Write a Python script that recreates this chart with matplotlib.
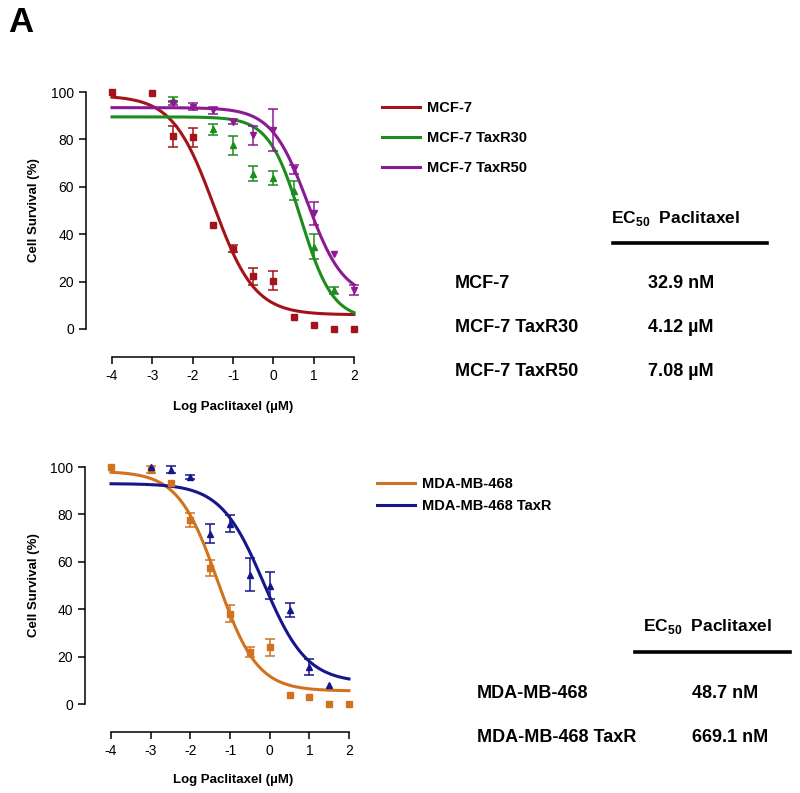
import numpy as np
import matplotlib
matplotlib.use("Agg")
import matplotlib.pyplot as plt
from matplotlib.lines import Line2D

plt.rcParams['font.family'] = ['Liberation Sans', 'DejaVu Sans']
plt.rcParams['mathtext.fontset'] = 'custom'
plt.rcParams['mathtext.rm'] = 'Liberation Sans:bold'
plt.rcParams['mathtext.bf'] = 'Liberation Sans:bold'

# log10 paclitaxel concentration (uM)
log_conc = [-4, -3, -2.5, -2, -1.5, -1, -0.5, 0, 0.5, 1, 1.5, 2]

# --- MCF-7 panel ---
mcf7_x = log_conc
mcf7_y = [100, 99.5, 81.3, 81, 43.8, 33.8, 22.2, 20.3, 5, 1.5, 0, 0]
mcf7_err = [0, 0, 4.5, 4, 0, 1.5, 3.5, 4, 0, 0, 0, 0]

r30_x = [-2.5, -1.5, -1, -0.5, 0, 0.5, 1, 1.5]
r30_y = [96.8, 84.2, 77.6, 65.6, 63.8, 58.3, 34.8, 16.3]
r30_err = [1, 2.5, 4, 3, 3, 4, 5.3, 1.5]

r50_x = [-2.5, -2, -1.5, -1, -0.5, 0, 0.5, 1, 1.5, 2]
r50_y = [95.4, 93.7, 92.3, 87.4, 81.8, 83.9, 67.3, 48.8, 31.7, 16.5]
r50_err = [1, 1.5, 1.5, 1, 4, 9, 2, 4.8, 0, 2]

# --- MDA-MB-468 panel ---
mda_x = log_conc
mda_y = [100, 98.9, 93.3, 77.5, 57.4, 38.1, 21.9, 23.9, 3.8, 3.1, 0, 0]
mda_err = [0, 1.5, 0, 3, 3.5, 3.5, 2, 3.5, 0, 0, 0, 0]

mdar_x = [-3, -2.5, -2, -1.5, -1, -0.5, 0, 0.5, 1, 1.5]
mdar_y = [100, 98.9, 95.8, 71.9, 76.1, 54.5, 50, 39.6, 15.6, 8.1]
mdar_err = [0, 1.5, 1, 4, 3.5, 7, 5.6, 3, 3.5, 0]

# fitted 4PL parameters: top, bottom, logEC50, hill
fit_mcf7 = [98.5, 6, -1.48, 0.85]
fit_r30 = [89.5, 4, 0.68, 1.1]
fit_r50 = [93.4, 13, 0.85, 0.97]
fit_mda = [98.2, 5.5, -1.31, 0.87]
fit_mdar = [93, 9, -0.15, 0.8]

ec50_top_names = ['MCF-7', 'MCF-7 TaxR30', 'MCF-7 TaxR50']
ec50_top_vals = ['32.9 nM', '4.12 µM', '7.08 µM']
ec50_bot_names = ['MDA-MB-468', 'MDA-MB-468 TaxR']
ec50_bot_vals = ['48.7 nM', '669.1 nM']

c_red = '#A3141A'
c_green = '#1C8C1C'
c_purple = '#8C1A94'
c_orange = '#D2721E'
c_navy = '#16168C'


def four_pl(x, p):
    top, bottom, logec, hill = p
    return bottom + (top - bottom) / (1 + 10 ** ((x - logec) * hill))


W, H = 800, 793
fig = plt.figure(figsize=(8, 7.93), dpi=100)


def make_axes(left, bottom, right, top):
    ax = fig.add_axes([left / W, 1 - bottom / H, (right - left) / W, (bottom - top) / H])
    ax.set_xlim(-4, 2)
    ax.set_ylim(0, 100)
    for s in ['top', 'right']:
        ax.spines[s].set_visible(False)
    ax.spines['left'].set_position(('outward', 19))
    ax.spines['bottom'].set_position(('outward', 20))
    ax.spines['left'].set_linewidth(1.1)
    ax.spines['bottom'].set_linewidth(1.1)
    ax.set_xticks([-4, -3, -2, -1, 0, 1, 2])
    ax.set_xticklabels(['-4', '-3', '-2', '-1', '0', '1', '2'])
    ax.set_yticks([0, 20, 40, 60, 80, 100])
    ax.tick_params(labelsize=10, length=5, width=1.1, direction='out')
    ax.patch.set_visible(False)
    return ax


def draw(ax, x, y, err, p, color, marker, ms):
    xs = np.linspace(-4, 2, 300)
    ax.plot(xs, four_pl(xs, p), color=color, lw=2.2, clip_on=False, zorder=2)
    x = np.array(x, float)
    y = np.array(y, float)
    err = np.array(err, float)
    m = err > 0
    ax.errorbar(x[m], y[m], yerr=err[m], fmt='none', ecolor=color, capsize=3.5,
                elinewidth=1.1, capthick=1.1, clip_on=False, zorder=3)
    ax.plot(x, y, marker, color=color, ms=ms, clip_on=False, zorder=4)


ax1 = make_axes(112, 329, 354, 92)
draw(ax1, mcf7_x, mcf7_y, mcf7_err, fit_mcf7, c_red, 's', 5)
draw(ax1, r30_x, r30_y, r30_err, fit_r30, c_green, '^', 5)
draw(ax1, r50_x, r50_y, r50_err, fit_r50, c_purple, 'v', 5)

ax2 = make_axes(111, 704, 349, 467)
draw(ax2, mda_x, mda_y, mda_err, fit_mda, c_orange, 's', 5)
draw(ax2, mdar_x, mdar_y, mdar_err, fit_mdar, c_navy, '^', 5)

for ax, ymid, xlab_y in [(ax1, 210, 407), (ax2, 585, 780)]:
    fig.text(34 / W, 1 - ymid / H, 'Cell Survival (%)', rotation=90,
             ha='center', va='center', fontsize=9.5, fontweight='bold')
    fig.text(233 / W, 1 - xlab_y / H, 'Log Paclitaxel (µM)',
             ha='center', va='center', fontsize=9.5, fontweight='bold')

fig.text(8 / W, 1 - 22 / H, 'A', fontsize=25, fontweight='bold', va='center', ha='left')

# legends
h1 = [Line2D([], [], color=c, lw=2.2) for c in [c_red, c_green, c_purple]]
fig.legend(h1, ec50_top_names, loc='upper left', bbox_to_anchor=(369 / W, 1 - 88 / H),
           frameon=False, prop={'weight': 'bold', 'size': 10.5}, handlelength=2.6,
           handletextpad=0.5, labelspacing=1.1)
h2 = [Line2D([], [], color=c, lw=2.2) for c in [c_orange, c_navy]]
fig.legend(h2, ec50_bot_names, loc='upper left', bbox_to_anchor=(364 / W, 1 - 464 / H),
           frameon=False, prop={'weight': 'bold', 'size': 10.5}, handlelength=2.6,
           handletextpad=0.5, labelspacing=0.55)

# EC50 tables
header = r'$\mathbf{EC}_{\mathbf{50}}$  Paclitaxel'
fig.text(611 / W, 1 - 218 / H, header, fontsize=12.5, fontweight='bold', va='center')
fig.add_artist(Line2D([613 / W, 767 / W], [1 - 243 / H, 1 - 243 / H], color='black', lw=2.6))
for i, (n, v) in enumerate(zip(ec50_top_names, ec50_top_vals)):
    yy = 1 - (283 + 44.5 * i) / H
    fig.text(455 / W, yy, n, fontsize=13, fontweight='bold', va='center')
    fig.text(648 / W, yy, v, fontsize=13, fontweight='bold', va='center')

fig.text(643 / W, 1 - 627 / H, header, fontsize=12.5, fontweight='bold', va='center')
fig.add_artist(Line2D([635 / W, 790 / W], [1 - 652 / H, 1 - 652 / H], color='black', lw=2.6))
for i, (n, v) in enumerate(zip(ec50_bot_names, ec50_bot_vals)):
    yy = 1 - (693 + 44 * i) / H
    fig.text(477 / W, yy, n, fontsize=13, fontweight='bold', va='center')
    fig.text(692 / W, yy, v, fontsize=13, fontweight='bold', va='center')

fig.savefig('out.png', dpi=100)
